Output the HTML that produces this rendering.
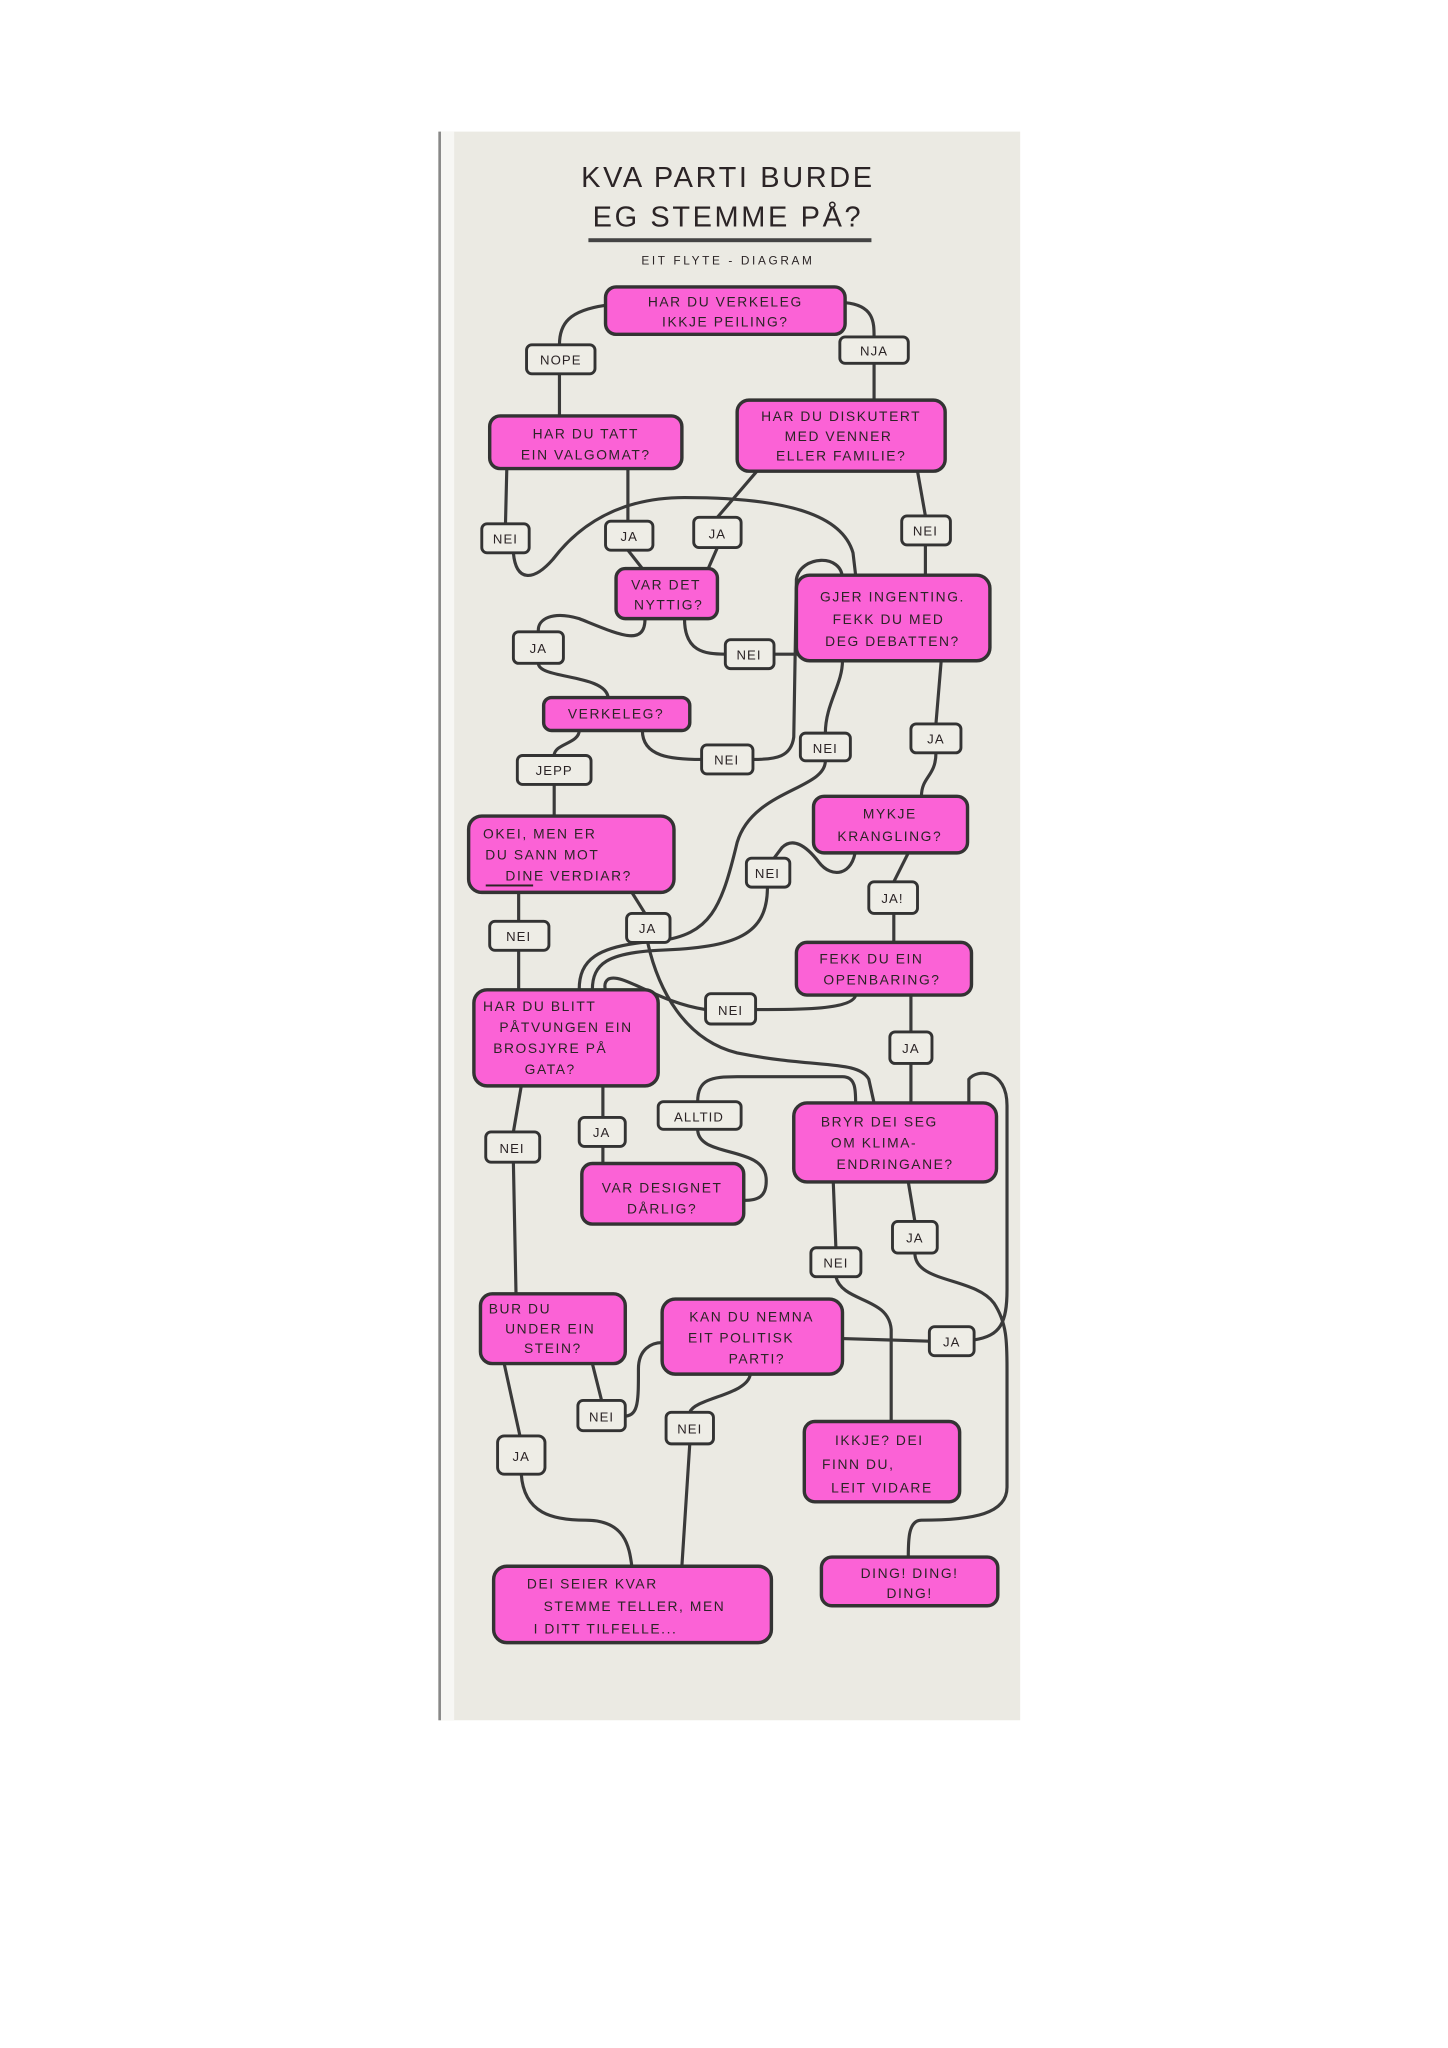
<!DOCTYPE html>
<html><head><meta charset="utf-8"><style>
html,body{margin:0;padding:0;background:#fff;}
svg{display:block;}
text{font-family:"Liberation Sans",sans-serif;fill:#2b2426;}
.n{fill:#fb62d6;stroke:#333;stroke-width:2.6;}
.l{fill:#eeede6;stroke:#333;stroke-width:2.2;}
.c{fill:none;stroke:#3a3a3a;stroke-width:2.4;stroke-linecap:round;}
.t{font-size:10.5px;letter-spacing:1.2px;text-anchor:middle;}
.s{font-size:10px;letter-spacing:0.8px;text-anchor:middle;}
</style></head><body>
<svg width="1448" height="2048" viewBox="0 0 1100 1556" preserveAspectRatio="none">
<rect x="0" y="0" width="1100" height="1556" fill="#fff"/>
<rect x="333" y="100" width="442" height="1207" fill="#ebeae3"/>
<rect x="333" y="100" width="2" height="1207" fill="#888"/>
<rect x="335" y="100" width="10" height="1207" fill="#f7f7f4"/>
<text x="553" y="142" style="font-size:22px;letter-spacing:2px;text-anchor:middle">KVA PARTI BURDE</text>
<text x="553" y="172" style="font-size:22px;letter-spacing:2px;text-anchor:middle">EG STEMME PÅ?</text>
<rect x="447" y="181" width="215" height="3" fill="#444"/>
<text x="553" y="201" style="font-size:9px;letter-spacing:2px;text-anchor:middle">EIT  FLYTE - DIAGRAM</text>

<g class="c">
<path d="M460,232 C432,236 425,246 425,262"/>
<path d="M642,230 C664,232 664,245 664,256"/>
<path d="M425,284 L425,316"/>
<path d="M664,276 L664,304"/>
<path d="M385,356 L384,398"/>
<path d="M477,356 L477,396"/>
<path d="M575,358 L545,393"/>
<path d="M697,358 L703,392"/>
<path d="M390,420 C392,442 405,442 420,425 C445,392 480,378 520,378 C600,378 640,392 648,420 L650,437"/>
<path d="M477,418 L488,432"/>
<path d="M545,416 L538,432"/>
<path d="M703,414 L703,437"/>
<path d="M640,440 C640,420 608,422 605,440 L603,560 C601,575 590,577 572,577"/>
<path d="M490,470 C490,492 470,482 440,470 C420,464 408,470 409,480"/>
<path d="M520,470 C520,495 535,497 551,497"/>
<path d="M588,497 L605,497"/>
<path d="M409,504 C409,516 460,512 462,530"/>
<path d="M488,555 C488,575 510,577 533,577"/>
<path d="M440,555 C440,565 421,565 421,574"/>
<path d="M421,596 L421,620"/>
<path d="M640,502 C640,520 627,535 627,557"/>
<path d="M715,502 L711,550"/>
<path d="M711,572 C711,590 700,590 700,605"/>
<path d="M627,578 C627,600 572,600 560,640 C548,690 540,710 500,715 C452,718 440,730 440,752"/>
<path d="M650,645 C648,665 632,668 622,655 C612,642 602,636 594,644 L588,652"/>
<path d="M583,674 C583,710 560,720 500,722 C462,724 450,732 450,752"/>
<path d="M690,648 L679,670"/>
<path d="M679,694 L679,716"/>
<path d="M394,678 L394,700"/>
<path d="M394,722 L394,752"/>
<path d="M480,678 L490,694"/>
<path d="M492,716 C500,752 520,790 560,800 C620,812 652,805 660,820 L664,838"/>
<path d="M650,756 C648,768 600,767 574,767"/>
<path d="M536,767 C500,762 472,738 462,744 C458,747 460,752 460,752"/>
<path d="M692,756 L692,784"/>
<path d="M692,808 L692,838"/>
<path d="M530,837 C530,820 540,818 560,818 L640,818 C650,818 650,828 650,838"/>
<path d="M530,858 C530,880 580,870 582,895 C583,910 575,912 565,912"/>
<path d="M396,825 L390,860"/>
<path d="M390,883 L392,983"/>
<path d="M458,825 L458,849"/>
<path d="M458,871 L458,884"/>
<path d="M740,1018 C760,1015 765,1005 765,980 L765,840 C765,812 742,812 736,820 L736,838"/>
<path d="M690,898 L695,928"/>
<path d="M695,952 C695,975 740,970 755,990 C765,1005 765,1020 765,1040 L765,1130 C765,1150 740,1155 700,1155 C690,1155 690,1170 690,1183"/>
<path d="M633,898 L635,948"/>
<path d="M635,970 C640,990 675,985 677,1010 L677,1080"/>
<path d="M640,1017 L706,1019"/>
<path d="M450,1036 L457,1064"/>
<path d="M475,1076 C485,1075 485,1065 485,1040 C485,1025 495,1020 503,1020"/>
<path d="M570,1044 C568,1060 528,1062 524,1073"/>
<path d="M383,1036 L395,1091"/>
<path d="M396,1120 C398,1150 420,1155 445,1155 C475,1155 478,1175 480,1190"/>
<path d="M524,1097 L518,1190"/>
</g>

<g>
<rect class="n" x="460" y="218" width="182" height="36" rx="8"/>
<text class="t" x="551" y="233">HAR DU VERKELEG</text><text class="t" x="551" y="248">IKKJE PEILING?</text>
<rect class="n" x="372" y="316" width="146" height="40" rx="8"/>
<text class="t" x="445" y="333">HAR DU TATT</text><text class="t" x="445" y="349">EIN VALGOMAT?</text>
<rect class="n" x="560" y="304" width="158" height="54" rx="9"/>
<text class="t" x="639" y="320">HAR DU DISKUTERT</text><text class="t" x="637" y="335">MED VENNER</text><text class="t" x="639" y="350">ELLER FAMILIE?</text>
<rect class="n" x="468" y="432" width="77" height="38" rx="7"/>
<text class="t" x="506" y="448">VAR DET</text><text class="t" x="508" y="463">NYTTIG?</text>
<rect class="n" x="605" y="437" width="147" height="65" rx="10"/>
<text class="t" x="678" y="457">GJER INGENTING.</text><text class="t" x="675" y="474">FEKK DU MED</text><text class="t" x="678" y="491">DEG DEBATTEN?</text>
<rect class="n" x="413" y="530" width="111" height="25" rx="6"/>
<text class="t" x="468" y="546">VERKELEG?</text>
<rect class="n" x="618" y="605" width="117" height="43" rx="8"/>
<text class="t" x="676" y="622">MYKJE</text><text class="t" x="676" y="639">KRANGLING?</text>
<rect class="n" x="356" y="620" width="156" height="58" rx="10"/>
<text class="t" x="410" y="637">OKEI, MEN ER</text><text class="t" x="412" y="653">DU SANN MOT</text><text class="t" x="432" y="669">DINE VERDIAR?</text>
<rect x="369" y="672" width="36" height="1.5" fill="#2b2426"/>
<rect class="n" x="605" y="716" width="133" height="40" rx="8"/>
<text class="t" x="662" y="732">FEKK DU EIN</text><text class="t" x="670" y="748">OPENBARING?</text>
<rect class="n" x="360" y="752" width="140" height="73" rx="10"/>
<text class="t" x="410" y="768">HAR DU BLITT</text><text class="t" x="430" y="784">PÅTVUNGEN EIN</text><text class="t" x="418" y="800">BROSJYRE PÅ</text><text class="t" x="418" y="816">GATA?</text>
<rect class="n" x="603" y="838" width="154" height="60" rx="10"/>
<text class="t" x="668" y="856">BRYR DEI SEG</text><text class="t" x="664" y="872">OM KLIMA-</text><text class="t" x="680" y="888">ENDRINGANE?</text>
<rect class="n" x="442" y="884" width="123" height="46" rx="8"/>
<text class="t" x="503" y="906">VAR DESIGNET</text><text class="t" x="503" y="922">DÅRLIG?</text>
<rect class="n" x="365" y="983" width="110" height="53" rx="9"/>
<text class="t" x="395" y="998">BUR DU</text><text class="t" x="418" y="1013">UNDER EIN</text><text class="t" x="420" y="1028">STEIN?</text>
<rect class="n" x="503" y="987" width="137" height="57" rx="10"/>
<text class="t" x="571" y="1004">KAN DU NEMNA</text><text class="t" x="563" y="1020">EIT POLITISK</text><text class="t" x="575" y="1036">PARTI?</text>
<rect class="n" x="611" y="1080" width="118" height="61" rx="8"/>
<text class="t" x="668" y="1098">IKKJE? DEI</text><text class="t" x="652" y="1116">FINN DU,</text><text class="t" x="670" y="1134">LEIT VIDARE</text>
<rect class="n" x="624" y="1183" width="134" height="37" rx="8"/>
<text class="t" x="691" y="1199">DING! DING!</text><text class="t" x="691" y="1214">DING!</text>
<rect class="n" x="375" y="1190" width="211" height="58" rx="10"/>
<text class="t" x="450" y="1207">DEI SEIER KVAR</text><text class="t" x="482" y="1224">STEMME TELLER, MEN</text><text class="t" x="460" y="1241">I DITT TILFELLE...</text>
</g>

<g>
<rect class="l" x="400" y="262" width="52" height="22" rx="4"/><text class="s" x="426" y="277">NOPE</text>
<rect class="l" x="638" y="256" width="52" height="20" rx="4"/><text class="s" x="664" y="270">NJA</text>
<rect class="l" x="366" y="398" width="36" height="22" rx="4"/><text class="s" x="384" y="413">NEI</text>
<rect class="l" x="460" y="396" width="36" height="22" rx="4"/><text class="s" x="478" y="411">JA</text>
<rect class="l" x="527" y="393" width="36" height="23" rx="4"/><text class="s" x="545" y="409">JA</text>
<rect class="l" x="685" y="392" width="37" height="22" rx="4"/><text class="s" x="703" y="407">NEI</text>
<rect class="l" x="390" y="480" width="38" height="24" rx="4"/><text class="s" x="409" y="496">JA</text>
<rect class="l" x="551" y="486" width="37" height="22" rx="4"/><text class="s" x="569" y="501">NEI</text>
<rect class="l" x="533" y="566" width="39" height="22" rx="4"/><text class="s" x="552" y="581">NEI</text>
<rect class="l" x="608" y="557" width="38" height="21" rx="4"/><text class="s" x="627" y="572">NEI</text>
<rect class="l" x="692" y="550" width="38" height="22" rx="4"/><text class="s" x="711" y="565">JA</text>
<rect class="l" x="393" y="574" width="56" height="22" rx="4"/><text class="s" x="421" y="589">JEPP</text>
<rect class="l" x="567" y="652" width="33" height="22" rx="4"/><text class="s" x="583" y="667">NEI</text>
<rect class="l" x="660" y="670" width="37" height="24" rx="4"/><text class="s" x="678" y="686">JA!</text>
<rect class="l" x="372" y="700" width="45" height="22" rx="4"/><text class="s" x="394" y="715">NEI</text>
<rect class="l" x="476" y="694" width="33" height="22" rx="4"/><text class="s" x="492" y="709">JA</text>
<rect class="l" x="536" y="755" width="38" height="23" rx="4"/><text class="s" x="555" y="771">NEI</text>
<rect class="l" x="676" y="784" width="32" height="24" rx="4"/><text class="s" x="692" y="800">JA</text>
<rect class="l" x="500" y="837" width="63" height="21" rx="4"/><text class="s" x="531" y="852">ALLTID</text>
<rect class="l" x="369" y="860" width="41" height="23" rx="4"/><text class="s" x="389" y="876">NEI</text>
<rect class="l" x="440" y="849" width="35" height="22" rx="4"/><text class="s" x="457" y="864">JA</text>
<rect class="l" x="678" y="928" width="34" height="24" rx="4"/><text class="s" x="695" y="944">JA</text>
<rect class="l" x="616" y="948" width="38" height="22" rx="4"/><text class="s" x="635" y="963">NEI</text>
<rect class="l" x="706" y="1008" width="34" height="22" rx="4"/><text class="s" x="723" y="1023">JA</text>
<rect class="l" x="439" y="1064" width="36" height="23" rx="4"/><text class="s" x="457" y="1080">NEI</text>
<rect class="l" x="506" y="1073" width="36" height="24" rx="4"/><text class="s" x="524" y="1089">NEI</text>
<rect class="l" x="378" y="1091" width="36" height="29" rx="5"/><text class="s" x="396" y="1110">JA</text>
</g>
</svg>
</body></html>
